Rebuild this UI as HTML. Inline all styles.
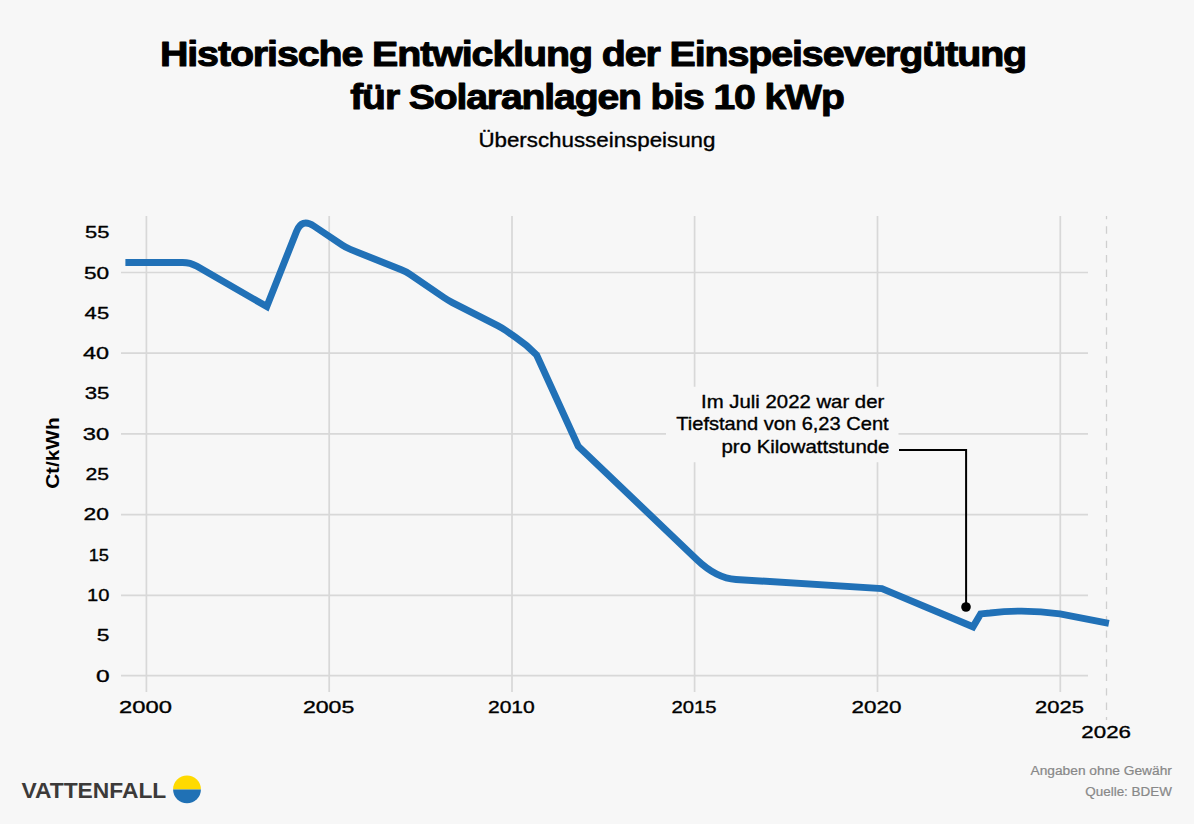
<!DOCTYPE html>
<html lang="de">
<head>
<meta charset="utf-8">
<title>Historische Entwicklung der Einspeisevergütung</title>
<style>
html,body{margin:0;padding:0;background:#f7f7f7;}
body{width:1194px;height:824px;overflow:hidden;}
svg{display:block;}
text{font-family:"Liberation Sans",Arial,sans-serif;}
</style>
</head>
<body>
<svg width="1194" height="824" viewBox="0 0 1194 824">
<rect width="1194" height="824" fill="#f7f7f7"/>
<g id="grid" stroke="#d8d8d8" stroke-width="1.7" fill="none">
<path d="M121 272.5H1088M121 353.1H1088M121 433.9H666M898.5 433.9H1088M121 514.6H1088M121 595.3H1088M121 675.6H1088"/>
<path d="M146.4 216V692M329.2 216V692M512 216V692M694.6 216V386.7M694.6 462.2V692M877.5 216V386.7M877.5 462.2V692M1060.3 216V692"/>
</g>
<path id="dash" d="M1106.5 216V720" stroke="#cfcfcf" stroke-width="1.3" stroke-dasharray="7.4 7.035" stroke-dashoffset="4.2" fill="none"/>
<path id="dataline" fill="none" stroke="#2171b7" stroke-width="6.9" stroke-linejoin="miter"
d="M125.4 262.45H182.6Q190.3 262.45 196.96 266.3L266.8 306.6L296.5 231.4Q301.8 218 313.8 226L342.3 245.2Q346 247.7 350.4 249.4L401.3 269.7Q405.7 271.4 409.7 274.1L443.9 297.5Q448 300.3 452.4 302.6L497.65 325.6Q502.1 327.9 506.2 330.8L515 336.9Q527 345 536.5 354.8L578.2 446.3L697 559.7Q716.4 578.2 736 579.45L881.9 588.6L973 626.8L980.6 613.9L990 613Q1025 608.8 1060 613.9L1108.9 623.4"/>
<path id="leader" d="M899 450.1H966.1V607" stroke="#000" stroke-width="2" fill="none"/>
<circle id="dot" cx="966" cy="607" r="4.8" fill="#000"/>
<g id="texts">
<text x="159.94" y="66.00" font-size="35" font-weight="700" textLength="866.12" lengthAdjust="spacingAndGlyphs" letter-spacing="-1.0" stroke="#000" stroke-width="1.0" stroke-linejoin="round">Historische Entwicklung der Einspeisevergütung</text>
<text x="350.22" y="109.10" font-size="35" font-weight="700" textLength="493.45" lengthAdjust="spacingAndGlyphs" letter-spacing="-1.0" stroke="#000" stroke-width="1.0" stroke-linejoin="round">für Solaranlagen bis 10 kWp</text>
<text x="478.41" y="146.90" font-size="19.7" textLength="237.05" lengthAdjust="spacingAndGlyphs" stroke="#000" stroke-width="0.35" stroke-linejoin="round">Überschusseinspeisung</text>
<text x="109.54" y="238.20" font-size="17.4" text-anchor="end" textLength="24.44" lengthAdjust="spacingAndGlyphs" stroke="#000" stroke-width="0.35" stroke-linejoin="round">55</text>
<text x="109.11" y="278.50" font-size="17.4" text-anchor="end" textLength="25.21" lengthAdjust="spacingAndGlyphs" stroke="#000" stroke-width="0.35" stroke-linejoin="round">50</text>
<text x="109.15" y="318.80" font-size="17.4" text-anchor="end" textLength="24.51" lengthAdjust="spacingAndGlyphs" stroke="#000" stroke-width="0.35" stroke-linejoin="round">45</text>
<text x="109.00" y="359.10" font-size="17.4" text-anchor="end" textLength="26.04" lengthAdjust="spacingAndGlyphs" stroke="#000" stroke-width="0.35" stroke-linejoin="round">40</text>
<text x="109.49" y="399.40" font-size="17.4" text-anchor="end" textLength="24.73" lengthAdjust="spacingAndGlyphs" stroke="#000" stroke-width="0.35" stroke-linejoin="round">35</text>
<text x="109.29" y="439.70" font-size="17.4" text-anchor="end" textLength="26.40" lengthAdjust="spacingAndGlyphs" stroke="#000" stroke-width="0.35" stroke-linejoin="round">30</text>
<text x="109.02" y="480.00" font-size="17.4" text-anchor="end" textLength="23.53" lengthAdjust="spacingAndGlyphs" stroke="#000" stroke-width="0.35" stroke-linejoin="round">25</text>
<text x="108.98" y="520.30" font-size="17.4" text-anchor="end" textLength="25.39" lengthAdjust="spacingAndGlyphs" stroke="#000" stroke-width="0.35" stroke-linejoin="round">20</text>
<text x="108.97" y="560.60" font-size="17.4" text-anchor="end" textLength="20.30" lengthAdjust="spacingAndGlyphs" stroke="#000" stroke-width="0.35" stroke-linejoin="round">15</text>
<text x="109.39" y="600.90" font-size="17.4" text-anchor="end" textLength="22.36" lengthAdjust="spacingAndGlyphs" stroke="#000" stroke-width="0.35" stroke-linejoin="round">10</text>
<text x="109.40" y="641.20" font-size="17.4" text-anchor="end" textLength="12.68" lengthAdjust="spacingAndGlyphs" stroke="#000" stroke-width="0.35" stroke-linejoin="round">5</text>
<text x="109.56" y="681.50" font-size="17.4" text-anchor="end" textLength="13.65" lengthAdjust="spacingAndGlyphs" stroke="#000" stroke-width="0.35" stroke-linejoin="round">0</text>
<text x="145.50" y="713.30" font-size="17.4" text-anchor="middle" textLength="52.82" lengthAdjust="spacingAndGlyphs" stroke="#000" stroke-width="0.35" stroke-linejoin="round">2000</text>
<text x="328.64" y="713.30" font-size="17.4" text-anchor="middle" textLength="51.44" lengthAdjust="spacingAndGlyphs" stroke="#000" stroke-width="0.35" stroke-linejoin="round">2005</text>
<text x="511.37" y="713.30" font-size="17.4" text-anchor="middle" textLength="46.85" lengthAdjust="spacingAndGlyphs" stroke="#000" stroke-width="0.35" stroke-linejoin="round">2010</text>
<text x="693.97" y="713.30" font-size="17.4" text-anchor="middle" textLength="45.19" lengthAdjust="spacingAndGlyphs" stroke="#000" stroke-width="0.35" stroke-linejoin="round">2015</text>
<text x="876.57" y="713.30" font-size="17.4" text-anchor="middle" textLength="49.88" lengthAdjust="spacingAndGlyphs" stroke="#000" stroke-width="0.35" stroke-linejoin="round">2020</text>
<text x="1059.48" y="713.30" font-size="17.4" text-anchor="middle" textLength="48.90" lengthAdjust="spacingAndGlyphs" stroke="#000" stroke-width="0.35" stroke-linejoin="round">2025</text>
<text x="1106.15" y="738.30" font-size="17.4" text-anchor="middle" textLength="49.57" lengthAdjust="spacingAndGlyphs" stroke="#000" stroke-width="0.35" stroke-linejoin="round">2026</text>
<text x="884.27" y="408.10" font-size="17.7" text-anchor="end" textLength="183.15" lengthAdjust="spacingAndGlyphs" stroke="#000" stroke-width="0.35" stroke-linejoin="round">Im Juli 2022 war der</text>
<text x="888.70" y="430.20" font-size="17.7" text-anchor="end" textLength="212.39" lengthAdjust="spacingAndGlyphs" stroke="#000" stroke-width="0.35" stroke-linejoin="round">Tiefstand von 6,23 Cent</text>
<text x="889.48" y="453.00" font-size="17.7" text-anchor="end" textLength="167.98" lengthAdjust="spacingAndGlyphs" stroke="#000" stroke-width="0.35" stroke-linejoin="round">pro Kilowattstunde</text>
<text x="1171.95" y="774.80" font-size="12" text-anchor="end" fill="#888888" textLength="141.49" lengthAdjust="spacingAndGlyphs" stroke="#888888" stroke-width="0.2" stroke-linejoin="round">Angaben ohne Gewähr</text>
<text x="1171.90" y="795.90" font-size="12" text-anchor="end" fill="#888888" textLength="86.63" lengthAdjust="spacingAndGlyphs" stroke="#888888" stroke-width="0.2" stroke-linejoin="round">Quelle: BDEW</text>
<text x="21.41" y="797.70" font-size="22" font-weight="700" fill="#3c3a39" textLength="144.87" lengthAdjust="spacingAndGlyphs">VATTENFALL</text>
<text transform="translate(58.60 453.14) rotate(-90)" font-size="18.6" font-weight="700" text-anchor="middle" textLength="71.48" lengthAdjust="spacingAndGlyphs">Ct/kWh</text>
</g>
<path id="logo1" d="M173.1 789.4A13.9 13.9 0 0 1 200.9 789.4Z" fill="#ffda00"/>
<path id="logo2" d="M173.1 789.4A13.9 13.9 0 0 0 200.9 789.4Z" fill="#2071b5"/>
</svg>

</body>
</html>
